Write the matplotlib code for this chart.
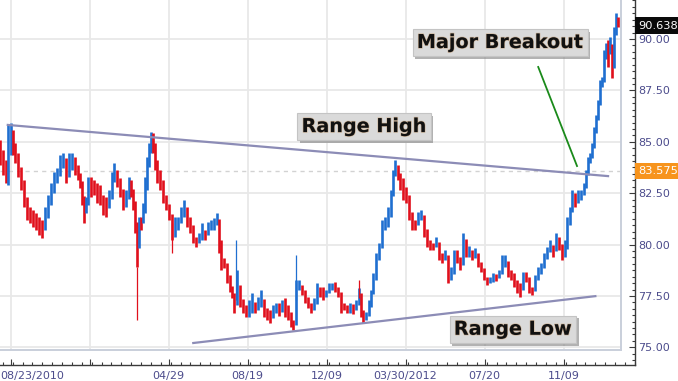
import matplotlib
matplotlib.use("Agg")
import matplotlib.pyplot as plt
import matplotlib.ticker as ticker
import matplotlib.transforms as mtransforms
import matplotlib.patheffects as pe
import numpy as np

plt.rcParams["font.family"] = ["DejaVu Sans"]

# bar days (days since 08/23/2010), bar highs and lows
days = [10, 14, 19, 21, 26, 28, 31, 36, 40, 44, 48, 53, 57, 61, 65, 70, 74, 78, 82, 87,
        91, 95, 99, 104, 108, 112, 116, 121, 123, 126, 129, 132, 135, 139, 143, 148, 152, 156, 160, 165,
        169, 172, 176, 180, 184, 189, 193, 196, 199, 201, 204, 207, 210, 213, 216, 218, 221, 224, 227, 230,
        233, 237, 241, 245, 250, 254, 258, 262, 267, 271, 275, 279, 284, 288, 292, 296, 301, 305, 309, 313,
        318, 320, 323, 328, 332, 336, 339, 342, 346, 350, 355, 359, 363, 367, 372, 376, 380, 384, 389, 393,
        397, 401, 406, 410, 414, 418, 423, 425, 430, 434, 438, 442, 447, 451, 455, 459, 464, 468, 472, 476,
        481, 485, 489, 493, 498, 502, 506, 510, 515, 519, 522, 525, 529, 533, 536, 539, 543, 547, 552, 556,
        560, 564, 567, 570, 574, 577, 581, 586, 590, 594, 598, 603, 607, 611, 615, 620, 624, 628, 632, 637,
        641, 645, 649, 654, 658, 662, 666, 671, 675, 679, 683, 688, 692, 696, 700, 705, 709, 713, 717, 722,
        726, 730, 734, 739, 743, 747, 751, 756, 760, 764, 768, 773, 777, 781, 785, 790, 794, 798, 802, 807,
        811, 814, 818, 821, 825, 829, 834, 838, 841, 844, 846, 849, 852, 855, 858, 861, 863, 866, 869, 872,
        875, 878, 880, 883, 886]

highs = [85.09, 84.60, 84.11, 85.82, 85.91, 85.57, 84.94, 84.26, 83.63, 82.80,
         82.17, 81.83, 81.68, 81.53, 81.34, 81.19, 81.83, 82.41, 82.99, 83.53,
         83.72, 84.36, 84.45, 84.21, 84.45, 84.45, 84.26, 83.87, 83.48, 82.80,
         82.02, 82.31, 83.28, 83.28, 83.14, 82.99, 82.90, 82.41, 82.31, 82.65,
         83.53, 83.97, 83.63, 83.14, 82.41, 82.65, 83.28, 83.14, 82.51, 81.68,
         80.71, 81.34, 81.34, 82.02, 83.28, 84.26, 84.94, 85.47, 85.43, 84.60,
         83.97, 83.63, 82.80, 82.31, 81.83, 81.05, 81.34, 81.34, 81.83, 82.17,
         81.83, 81.34, 80.71, 80.37, 80.56, 81.05, 80.71, 81.10, 81.19, 81.29,
         81.53, 80.85, 79.73, 79.34, 78.86, 78.27, 77.88, 77.45, 78.76, 77.79,
         77.15, 77.06, 77.30, 77.64, 77.20, 77.45, 77.79, 77.15, 76.91, 76.81,
         77.06, 77.15, 77.15, 77.30, 77.40, 77.06, 76.47, 76.33, 78.27, 78.27,
         78.03, 77.79, 77.40, 77.15, 77.40, 78.13, 77.93, 77.93, 77.79, 78.13,
         78.13, 78.18, 77.93, 77.30, 77.15, 77.06, 77.15, 77.11, 77.30, 77.88,
         77.15, 76.57, 76.72, 77.30, 77.79, 78.61, 79.59, 80.07, 81.19, 81.34,
         81.83, 82.65, 83.63, 84.11, 83.87, 83.48, 83.24, 82.80, 82.02, 81.34,
         81.19, 81.58, 81.68, 81.19, 80.37, 80.22, 80.07, 80.37, 79.88, 79.59,
         79.73, 78.76, 78.91, 79.73, 79.73, 79.25, 80.56, 79.88, 79.93, 79.73,
         79.83, 79.39, 79.10, 78.61, 78.42, 78.42, 78.61, 78.57, 78.76, 79.49,
         79.49, 78.91, 78.76, 78.61, 78.27, 78.13, 78.66, 78.66, 78.13, 77.93,
         78.52, 78.91, 79.10, 79.59, 79.88, 80.22, 79.98, 80.56, 80.37, 79.73,
         80.22, 81.34, 81.83, 82.65, 82.51, 82.65, 82.65, 82.99, 83.63, 84.26,
         84.45, 84.94, 85.72, 86.30, 87.03, 88.01, 88.15, 89.46, 89.81, 89.95,
         90.10, 89.12, 90.58, 91.27, 91.07]

lows = [83.87, 83.38, 82.99, 82.90, 85.09, 84.36, 83.97, 83.28, 82.65, 81.83,
        81.19, 81.05, 80.85, 80.71, 80.46, 80.32, 80.71, 81.44, 82.02, 82.80,
        82.99, 83.53, 83.72, 82.99, 83.28, 83.63, 83.38, 83.14, 82.75, 81.92,
        81.05, 81.58, 82.56, 82.31, 82.41, 82.02, 81.92, 81.44, 81.34, 81.78,
        82.56, 83.28, 82.80, 82.31, 81.68, 81.83, 82.51, 82.31, 81.68, 80.56,
        78.91, 80.85, 80.71, 81.05, 82.02, 83.28, 83.97, 84.75, 84.45, 83.63,
        82.99, 82.65, 82.02, 81.68, 81.19, 80.22, 80.37, 80.71, 81.05, 81.34,
        80.85, 80.56, 80.07, 79.88, 80.07, 80.22, 80.22, 80.46, 80.71, 80.71,
        80.95, 79.59, 78.76, 78.86, 78.13, 77.69, 77.40, 76.67, 77.30, 76.96,
        76.67, 76.47, 76.47, 76.67, 76.67, 76.81, 76.96, 76.47, 76.33, 76.18,
        76.42, 76.67, 76.52, 76.72, 76.47, 76.33, 75.99, 75.84, 77.30, 77.79,
        77.54, 77.15, 76.91, 76.67, 76.81, 77.45, 77.45, 77.30, 77.45, 77.64,
        77.79, 77.69, 77.45, 76.67, 76.81, 76.67, 76.67, 76.62, 76.81, 77.40,
        76.47, 76.18, 76.33, 76.67, 77.40, 77.93, 78.91, 79.64, 80.22, 80.71,
        80.85, 82.07, 83.04, 83.48, 83.14, 82.65, 82.17, 82.02, 81.19, 80.71,
        80.71, 81.05, 81.19, 80.37, 79.88, 79.73, 79.73, 79.88, 79.25, 79.10,
        79.25, 78.13, 78.27, 79.25, 79.10, 78.76, 79.98, 79.39, 79.39, 79.25,
        79.34, 78.91, 78.66, 78.27, 78.03, 78.13, 78.18, 78.22, 78.37, 78.86,
        78.91, 78.42, 78.27, 77.93, 77.64, 77.45, 78.18, 78.18, 77.64, 77.54,
        78.03, 78.27, 78.66, 79.00, 79.39, 79.64, 79.39, 79.88, 79.73, 79.25,
        79.39, 80.56, 81.29, 82.17, 81.83, 82.02, 82.17, 82.51, 83.14, 83.77,
        83.97, 84.45, 85.09, 85.82, 86.55, 87.37, 87.66, 88.64, 89.12, 88.64,
        89.46, 88.10, 89.81, 90.58, 90.58]

# long wicks
spike_days = [204, 254, 345, 430, 519]
spike_top = [78.91, 81.05, 80.22, 79.49, 78.27]
spike_bottom = [76.33, 79.59, 77.30, 77.30, 77.40]
spike_up = [False, False, True, True, False]

# trend lines
high_line_days = [21, 872]
high_line_vals = [85.82, 83.33]
low_line_days = [284, 854]
low_line_vals = [75.21, 77.49]
arrow_days = [773, 828]
arrow_vals = [88.64, 83.82]

last_price = 90.638
marker_price = 83.575

tick_days = [25, 137, 249, 361, 473, 585, 697, 809]
tick_labels = ["", "", "04/29", "08/19", "12/09", "03/30/2012", "07/20", "11/09"]
first_label = "08/23/2010"

RED = "#e0101c"
BLUE = "#1f6fd0"
GRID = "#e8e8e8"
LABEL = "#4c4c8c"

fig = plt.figure(figsize=(6.78, 3.81), dpi=100)
ax = fig.add_axes([0, 16 / 381, 635 / 678, 365 / 381])
ax.set_xlim(10, 910.2)
ax.set_ylim(74.14, 91.898)

frame_right = 890.4
frame_bottom = 74.87

# grid + frame
ax.hlines(np.arange(75, 90.1, 2.5), 10, frame_right, color=GRID, lw=1.3, zorder=1)
ax.vlines(tick_days, frame_bottom, 91.898, color=GRID, lw=1.3, zorder=1)
ax.hlines(marker_price, 10, frame_right, color="#d2d2d2", lw=1, linestyles=(0, (3, 3)), zorder=1)
ax.plot([frame_right, frame_right], [frame_bottom, 91.898], color="#c9cfdb", lw=1.4, zorder=2)
ax.plot([10, frame_right], [frame_bottom, frame_bottom], color="#c9cfdb", lw=1.4, zorder=2)

# bars: each bar also reaches back to the previous bar's midpoint so the band is continuous
hi = np.array(highs)
lo = np.array(lows)
mids = (hi + lo) / 2
prev = np.concatenate([[mids[0]], mids[:-1]])
cols = [BLUE if i > 0 and mids[i] > mids[i - 1] else RED for i in range(len(mids))]
ax.vlines(days, np.minimum(lo, prev), np.maximum(hi, prev), colors=cols, lw=1.9, zorder=3)
ax.vlines(spike_days, spike_bottom, spike_top,
          colors=[BLUE if u else RED for u in spike_up], lw=0.9, zorder=3)

# range lines
ax.plot(high_line_days, high_line_vals, color="#8c8cb6", lw=1.6, zorder=4)
ax.plot(low_line_days, low_line_vals, color="#8c8cb6", lw=1.6, zorder=4)
ax.plot(arrow_days, arrow_vals, color="#1a8a1a", lw=1.3, zorder=4)

# labels
def boxed(x, y, s):
    t = ax.text(x, y, s, ha="center", va="center", fontsize=13.8, fontweight="bold",
                color="#111111", zorder=6,
                bbox=dict(boxstyle="square,pad=0.22", fc="#dadada", ec="#c4c4c4", lw=0.8))
    t.set_path_effects([pe.withStroke(linewidth=1.0, foreground="#c8a27a", alpha=0.6)])
    t.get_bbox_patch().set_path_effects([
        pe.withSimplePatchShadow(offset=(2, -2), shadow_rgbFace="#808080", alpha=0.6)])

boxed(526, 85.74, "Range High")
boxed(719, 89.83, "Major Breakout")
boxed(737, 75.88, "Range Low")

# axes styling
for s in ["left", "top"]:
    ax.spines[s].set_visible(False)
for s in ["right", "bottom"]:
    ax.spines[s].set_color("#3a3a3a")
    ax.spines[s].set_linewidth(1)

ax.yaxis.tick_right()
ax.yaxis.set_major_locator(ticker.FixedLocator(np.arange(75, 90.1, 2.5)))
ax.yaxis.set_minor_locator(ticker.MultipleLocator(0.3125))
ax.yaxis.set_major_formatter(ticker.FormatStrFormatter("%.2f"))
ax.xaxis.set_major_locator(ticker.FixedLocator(tick_days))
ax.xaxis.set_major_formatter(ticker.FixedFormatter(tick_labels))
ax.xaxis.set_minor_locator(ticker.MultipleLocator(14))
ax.tick_params(which="both", direction="in", colors="#3a3a3a", labelcolor=LABEL, labelsize=8)
ax.tick_params(which="major", length=4.5, width=0.8)
ax.tick_params(which="minor", length=2.3, width=0.8)
ax.tick_params(axis="x", pad=4)
ax.tick_params(axis="y", pad=2)

ax.annotate(first_label, xy=(0, 0), xycoords="axes fraction", xytext=(0, -6),
            textcoords="offset pixels", ha="left", va="top", fontsize=8, color=LABEL)

tr = mtransforms.blended_transform_factory(ax.transAxes, ax.transData)
ax.annotate("90.638", xy=(1.0, last_price), xycoords=tr, xytext=(3, 0),
            textcoords="offset pixels", ha="left", va="center", fontsize=8.2,
            color="white", zorder=7, annotation_clip=False,
            bbox=dict(boxstyle="square,pad=0.3", fc="#0a0a0a", ec="none"))
ax.annotate("83.575", xy=(1.0, marker_price), xycoords=tr, xytext=(3, 0),
            textcoords="offset pixels", ha="left", va="center", fontsize=8.2,
            color="white", zorder=7, annotation_clip=False,
            bbox=dict(boxstyle="square,pad=0.3", fc="#f7941d", ec="none"))

fig.savefig("out.png", dpi=100)
